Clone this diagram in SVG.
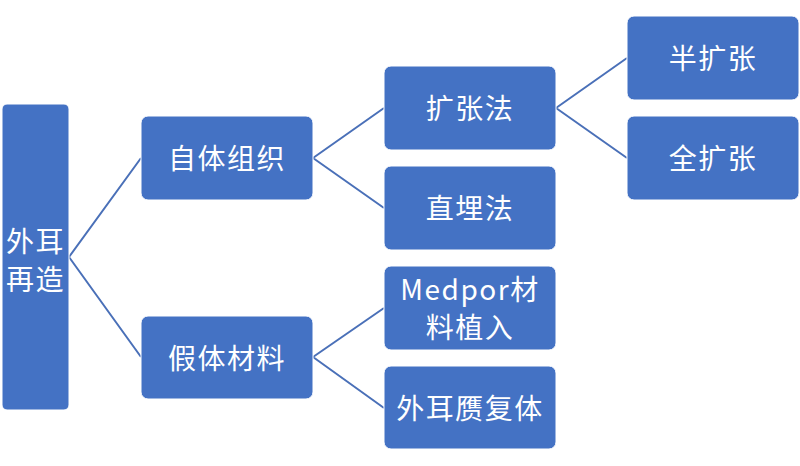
<svg xmlns="http://www.w3.org/2000/svg" width="800" height="466" viewBox="0 0 800 466">
<style>
.box{fill:#4472C4;stroke:#ffffff;stroke-width:1}
.t{fill:#ffffff;font-family:"Noto Sans CJK SC","Noto Sans",sans-serif;font-size:28px;text-anchor:middle;dominant-baseline:central;letter-spacing:1.5px}
.c{stroke:#4A70B8;stroke-width:2;fill:none}
</style>
<rect width="800" height="466" fill="#ffffff"/>
<g id="connectors">
<path class="c" d="M69 257 L141 158 M69 257 L141 357"/>
<path class="c" d="M313 158 L384 108 M313 158 L384 208"/>
<path class="c" d="M556 108 L627 58 M556 108 L627 158"/>
<path class="c" d="M313 357 L384 308 M313 357 L384 408"/>
</g>
<g id="n-root"><rect class="box" x="2" y="104" width="67" height="306" rx="5"/><text class="t" x="35.5" y="240">外耳</text><text class="t" x="35.5" y="278">再造</text></g>
<g id="n-zitizuzhi"><rect class="box" x="141" y="116" width="172" height="84" rx="7"/><text class="t" x="227" y="157">自体组织</text></g>
<g id="n-jiaticailiao"><rect class="box" x="141" y="316" width="172" height="83" rx="7"/><text class="t" x="227" y="357">假体材料</text></g>
<g id="n-kuozhangfa"><rect class="box" x="384" y="66" width="172" height="84" rx="7"/><text class="t" x="470" y="107">扩张法</text></g>
<g id="n-zhimaifa"><rect class="box" x="384" y="166" width="172" height="84" rx="7"/><text class="t" x="470" y="207">直埋法</text></g>
<g id="n-medpor"><rect class="box" x="384" y="266" width="172" height="84" rx="7"/><text class="t" x="470" y="288">Medpor材</text><text class="t" x="470" y="326">料植入</text></g>
<g id="n-waier"><rect class="box" x="384" y="366" width="172" height="83" rx="7"/><text class="t" x="470" y="407">外耳赝复体</text></g>
<g id="n-bankuozhang"><rect class="box" x="627" y="16" width="172" height="84" rx="7"/><text class="t" x="713" y="57">半扩张</text></g>
<g id="n-quankuozhang"><rect class="box" x="627" y="116" width="172" height="84" rx="7"/><text class="t" x="713" y="157">全扩张</text></g>
</svg>
